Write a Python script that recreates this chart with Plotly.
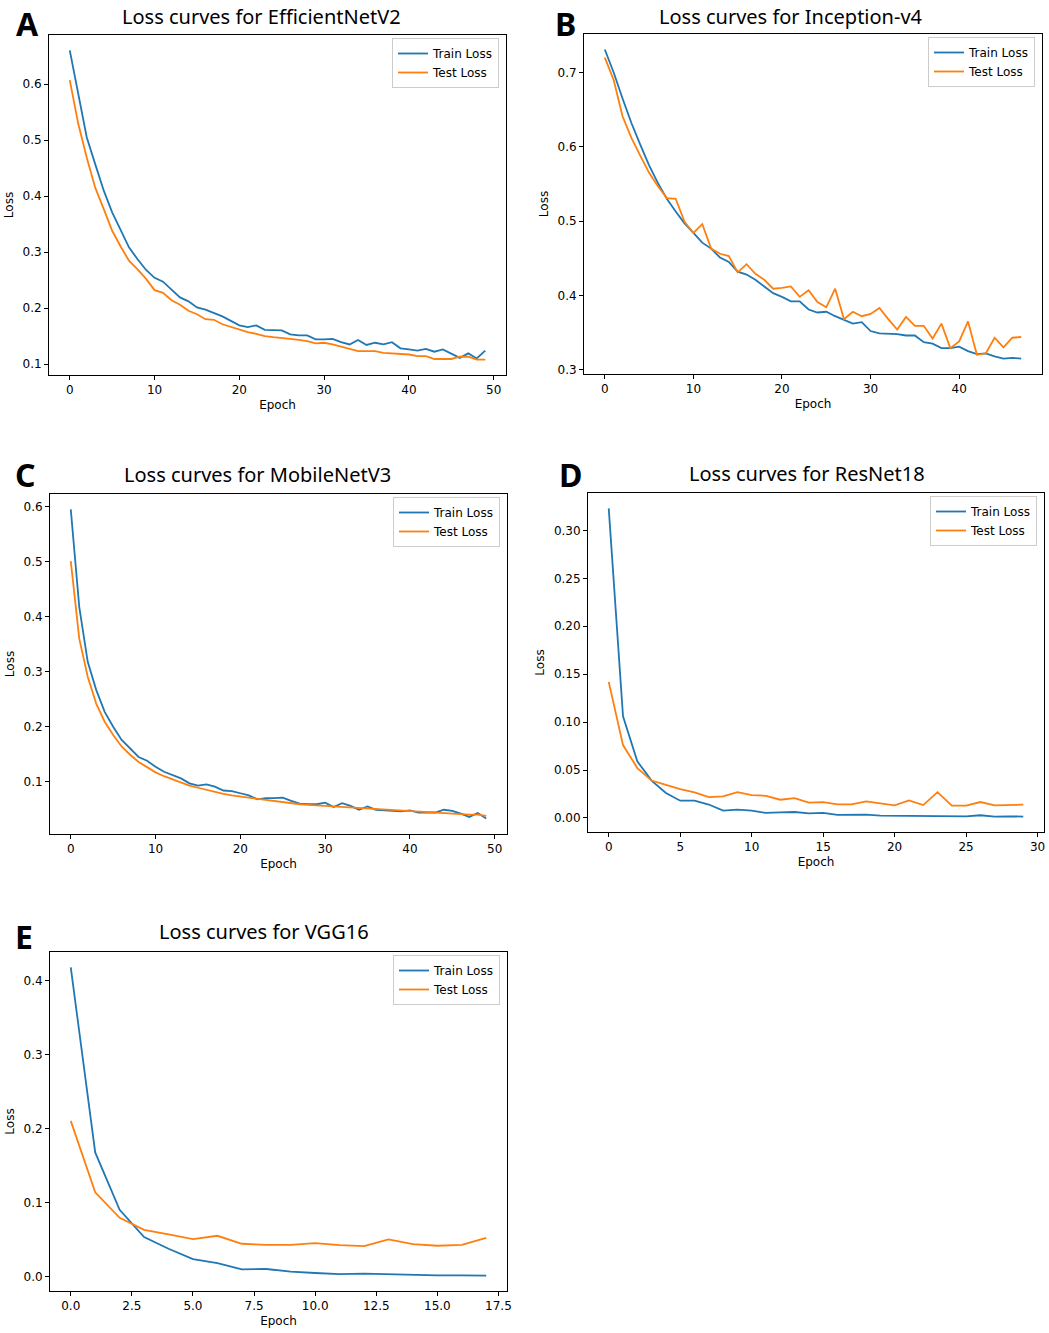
import plotly.graph_objects as go

W, H = 1049, 1333

# ---- data (per-epoch loss) ----
train_effnet = [0.660, 0.583, 0.505, 0.457, 0.410, 0.371, 0.338, 0.308, 0.287, 0.268,
                0.254, 0.247, 0.233, 0.219, 0.212, 0.201, 0.197, 0.191, 0.185, 0.177,
                0.169, 0.166, 0.169, 0.161, 0.160, 0.160, 0.153, 0.151, 0.151, 0.144,
                0.144, 0.145, 0.139, 0.135, 0.143, 0.134, 0.138, 0.135, 0.139, 0.128,
                0.126, 0.124, 0.127, 0.122, 0.126, 0.119, 0.111, 0.119, 0.110, 0.124]
test_effnet = [0.607, 0.529, 0.469, 0.415, 0.377, 0.338, 0.310, 0.284, 0.269, 0.252,
               0.232, 0.227, 0.214, 0.206, 0.195, 0.189, 0.180, 0.179, 0.171, 0.166,
               0.162, 0.157, 0.154, 0.150, 0.148, 0.147, 0.145, 0.143, 0.141, 0.137,
               0.138, 0.135, 0.131, 0.126, 0.123, 0.123, 0.123, 0.120, 0.119, 0.118,
               0.117, 0.114, 0.114, 0.109, 0.109, 0.109, 0.113, 0.113, 0.108, 0.108]

train_inception = [0.731, 0.700, 0.665, 0.632, 0.603, 0.575, 0.551, 0.530, 0.513, 0.497,
                   0.484, 0.471, 0.463, 0.451, 0.445, 0.432, 0.428, 0.421, 0.412, 0.403,
                   0.398, 0.392, 0.392, 0.381, 0.377, 0.378, 0.372, 0.367, 0.362, 0.364,
                   0.352, 0.349, 0.349, 0.348, 0.346, 0.346, 0.337, 0.335, 0.329, 0.329,
                   0.331, 0.325, 0.321, 0.322, 0.318, 0.315, 0.316, 0.315]
test_inception = [0.720, 0.690, 0.641, 0.612, 0.588, 0.565, 0.547, 0.531, 0.530, 0.499,
                  0.484, 0.496, 0.463, 0.456, 0.453, 0.431, 0.442, 0.429, 0.421, 0.409,
                  0.410, 0.412, 0.398, 0.407, 0.391, 0.384, 0.409, 0.368, 0.378, 0.372,
                  0.375, 0.383, 0.368, 0.354, 0.371, 0.359, 0.359, 0.342, 0.362, 0.329,
                  0.338, 0.365, 0.320, 0.322, 0.343, 0.330, 0.343, 0.344]

train_mobilenet = [0.595, 0.418, 0.318, 0.267, 0.227, 0.200, 0.176, 0.161, 0.145, 0.138,
                   0.127, 0.118, 0.112, 0.106, 0.097, 0.093, 0.095, 0.091, 0.084, 0.083,
                   0.079, 0.075, 0.068, 0.070, 0.070, 0.071, 0.065, 0.060, 0.059, 0.059,
                   0.062, 0.054, 0.061, 0.056, 0.049, 0.055, 0.049, 0.048, 0.046, 0.046,
                   0.048, 0.044, 0.044, 0.044, 0.049, 0.047, 0.042, 0.036, 0.043, 0.033]
test_mobilenet = [0.501, 0.360, 0.291, 0.242, 0.209, 0.185, 0.164, 0.149, 0.136, 0.126,
                  0.117, 0.110, 0.104, 0.098, 0.093, 0.089, 0.085, 0.081, 0.078, 0.075,
                  0.073, 0.070, 0.068, 0.066, 0.064, 0.063, 0.061, 0.059, 0.058, 0.057,
                  0.056, 0.055, 0.054, 0.053, 0.052, 0.051, 0.050, 0.049, 0.048, 0.048,
                  0.047, 0.046, 0.045, 0.044, 0.043, 0.042, 0.041, 0.040, 0.040, 0.038]

train_resnet = [0.323, 0.106, 0.059, 0.039, 0.026, 0.018, 0.018, 0.014, 0.0076, 0.0086,
                0.0076, 0.0052, 0.0059, 0.0062, 0.0048, 0.0052, 0.0031, 0.0031, 0.0034, 0.0024,
                0.0024, 0.0017, 0.0017, 0.0021, 0.0017, 0.0017, 0.0028, 0.0014, 0.0017, 0.0014]
test_resnet = [0.142, 0.076, 0.052, 0.039, 0.0345, 0.030, 0.0266, 0.0217, 0.0224, 0.0269,
               0.0238, 0.0231, 0.019, 0.0207, 0.0159, 0.0166, 0.0141, 0.0141, 0.0172, 0.0152,
               0.0131, 0.0183, 0.0134, 0.0269, 0.0128, 0.0128, 0.0166, 0.0131, 0.0138, 0.0138]

train_vgg = [0.4175, 0.1675, 0.0898, 0.0530, 0.0373, 0.0233, 0.0180, 0.0094, 0.0099,
             0.0063, 0.0045, 0.0031, 0.0036, 0.0027, 0.0022, 0.0013, 0.0013, 0.0010]
test_vgg = [0.2101, 0.1136, 0.0790, 0.0628, 0.0566, 0.0503, 0.0548, 0.0440, 0.0426,
            0.0426, 0.0449, 0.0422, 0.0409, 0.0498, 0.0435, 0.0413, 0.0426, 0.0521]

# letter, title, train, test, axes box (left, right, top, bottom) in px,
# title centre (x, y), letter centre (x, y), x dtick, y dtick, x fmt, y fmt
panels = [
    ("A", "Loss curves for EfficientNetV2", train_effnet, test_effnet,
     (49, 506, 35, 375), (261, 16), (27, 18), 10, 0.1, "d", ".1f"),
    ("B", "Loss curves for Inception-v4", train_inception, test_inception,
     (584, 1042, 34, 374), (791, 16), (565, 18), 10, 0.1, "d", ".1f"),
    ("C", "Loss curves for MobileNetV3", train_mobilenet, test_mobilenet,
     (50, 507, 494, 834), (257, 474), (25, 473), 10, 0.1, "d", ".1f"),
    ("D", "Loss curves for ResNet18", train_resnet, test_resnet,
     (588, 1044, 493, 832), (807, 473), (570, 473), 5, 0.05, "d", ".2f"),
    ("E", "Loss curves for VGG16", train_vgg, test_vgg,
     (50, 507, 952, 1291), (264, 931), (24, 935), 2.5, 0.1, ".1f", ".1f"),
]

BLUE = "#1f77b4"
ORANGE = "#ff7f0e"
TICK_FONT = dict(family="DejaVu Sans", size=12, color="black")

fig = go.Figure()
annotations = []
layout = {}

for i, (letter, title, train, test, box, tpos, lpos, xdt, ydt, xf, yf) in enumerate(panels):
    n = i + 1
    sfx = "" if n == 1 else str(n)
    left, right, top, bottom = box
    epochs = list(range(len(train)))
    leg = "legend" + sfx

    fig.add_trace(go.Scatter(x=epochs, y=train, mode="lines", name="Train Loss",
                             line=dict(color=BLUE, width=1.8),
                             xaxis="x" + sfx, yaxis="y" + sfx, legend=leg))
    fig.add_trace(go.Scatter(x=epochs, y=test, mode="lines", name="Test Loss",
                             line=dict(color=ORANGE, width=1.8),
                             xaxis="x" + sfx, yaxis="y" + sfx, legend=leg))

    # matplotlib-style 5% autoscale margins
    xmax = len(train) - 1
    ymin = min(train + test)
    ymax = max(train + test)
    xpad = 0.05 * xmax
    ypad = 0.05 * (ymax - ymin)

    axis_common = dict(showline=True, mirror=True, linecolor="black", linewidth=1,
                       ticks="outside", ticklen=4, tickwidth=1, tickcolor="black",
                       showgrid=False, zeroline=False, tickfont=TICK_FONT,
                       automargin=False)
    layout["xaxis" + sfx] = dict(
        axis_common, domain=[left / W, right / W], anchor="y" + sfx,
        range=[-xpad, xmax + xpad], dtick=xdt, tick0=0,
        tickformat=xf if xf != "d" else None,
        title=dict(text="Epoch", font=TICK_FONT, standoff=4))
    layout["yaxis" + sfx] = dict(
        axis_common, domain=[1 - bottom / H, 1 - top / H], anchor="x" + sfx,
        range=[ymin - ypad, ymax + ypad], dtick=ydt, tick0=0, tickformat=yf,
        title=dict(text="Loss", font=TICK_FONT, standoff=6))
    layout[leg] = dict(x=(right - 7) / W, y=1 - (top + 3) / H,
                       xanchor="right", yanchor="top",
                       bgcolor="rgba(255,255,255,0.8)", bordercolor="#cccccc",
                       borderwidth=1, font=TICK_FONT, itemwidth=30,
                       tracegroupgap=0)

    annotations.append(dict(text=title, x=tpos[0] / W, y=1 - tpos[1] / H,
                            xref="paper", yref="paper", showarrow=False,
                            xanchor="center", yanchor="middle",
                            font=dict(family="Noto Sans", size=20, color="black")))
    # panel letters; keep the top row's letters inside the page
    letter_y = min(1 - lpos[1] / H + 22 / H, 1.0)
    annotations.append(dict(text="<b>" + letter + "</b>", x=lpos[0] / W, y=letter_y,
                            xref="paper", yref="paper", showarrow=False,
                            xanchor="center", yanchor="top",
                            font=dict(family="Noto Sans", size=32, color="black")))

fig.update_layout(
    width=W, height=H,
    margin=dict(l=0, r=0, t=0, b=0),
    paper_bgcolor="white", plot_bgcolor="white",
    annotations=annotations,
    **layout
)

# drop the browser's default page margin so the figure sits at the window origin
fig.write_html("out.html", config={"displayModeBar": False},
               post_script="document.body.style.margin='0';document.body.style.overflow='hidden';")
